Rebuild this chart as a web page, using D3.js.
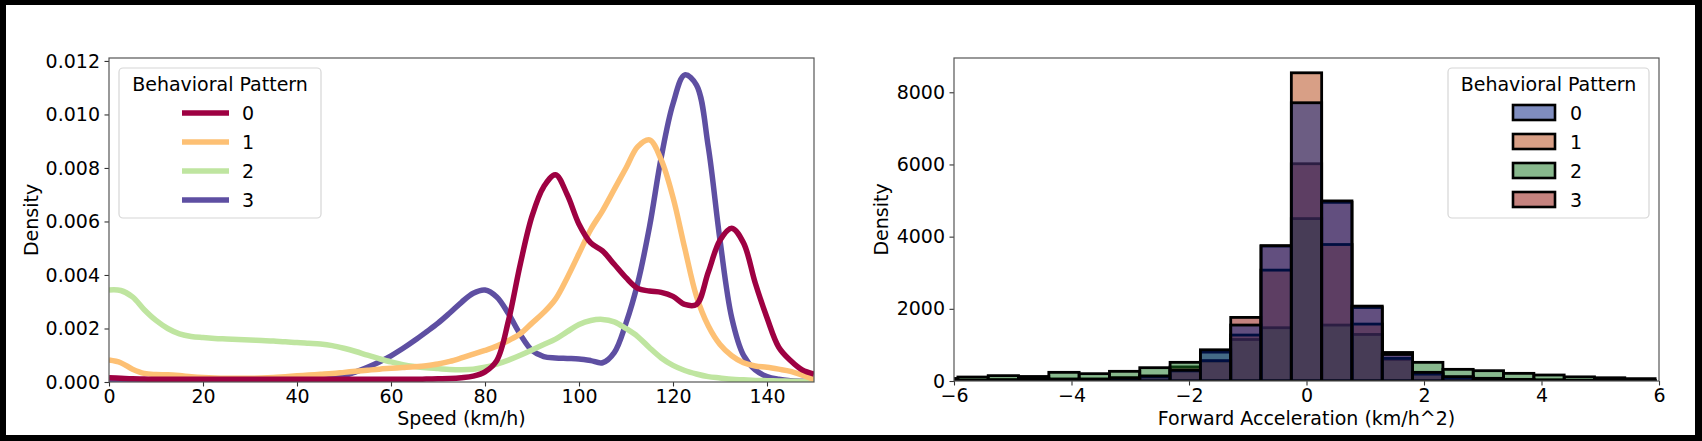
<!DOCTYPE html>
<html>
<head>
<meta charset="utf-8">
<script src="https://d3js.org/d3.v7.min.js"></script>
<style>
    body { margin: 0; background: #fff; }
    svg text { font-family: "DejaVu Sans", sans-serif; fill: #000; }
</style>
</head>
<body>
<svg id="fig" width="1702" height="441"></svg>
<script>
// Hue levels shared by both panels
var patterns = ["0", "1", "2", "3"];

// Left panel: KDE of speed per pattern, every 2.5 km/h
var speedGrid = [0, 2.5, 5, 7.5, 10, 12.5, 15, 17.5, 20, 22.5, 25, 27.5, 30, 32.5, 35, 37.5,
    40, 42.5, 45, 47.5, 50, 52.5, 55, 57.5, 60, 62.5, 65, 67.5, 70, 72.5, 75, 77.5,
    80, 82.5, 85, 87.5, 90, 92.5, 95, 97.5, 100, 102.5, 105, 107.5, 110, 112.5, 115, 117.5,
    120, 122.5, 125, 127.5, 130, 132.5, 135, 137.5, 140, 142.5, 145, 147.5, 150];

var speedDensity0 = [.00016, .00014, .00012, .00011, .0001, .0001, .0001, .0001, .0001, .0001, .0001, .0001, .0001, .0001, .0001, .0001,
    .0001, .0001, .0001, .0001, .0001, .0001, .0001, .0001, .0001, .0001, .0001, .00011, .00012, .00013, .00016, .00022,
    .00038, .0008, .0023, .0044, .0062, .0073, .00775, .0070, .0059, .0052, .0049, .0044, .0039, .0035, .0034, .00335,
    .0032, .0029, .0029, .0041, .0053, .00575, .0052, .0037, .0024, .0013, .0008, .00045, .0003];

var speedDensity1 = [.00082, .00072, .00048, .00032, .00028, .00027, .00024, .0002, .00017, .00015, .00014, .00014, .00014, .00015, .00017, .0002,
    .00023, .00026, .00029, .00032, .00036, .0004, .00044, .00048, .00051, .00054, .00057, .00061, .00067, .00077, .0009, .00104,
    .00118, .00134, .00155, .0018, .0022, .0026, .0031, .0039, .0048, .0057, .0064, .0072, .0080, .0088, .00905, .0083,
    .0069, .0050, .0032, .0021, .0014, .00098, .00072, .0006, .00055, .00048, .0004, .00026, .0001];

var speedDensity2 = [.00344, .00342, .00318, .0027, .0023, .0020, .0018, .0017, .00166, .00163, .00161, .00159, .00157, .00155, .00153, .0015,
    .00148, .00145, .00142, .00136, .00126, .00114, .001, .00087, .00075, .00065, .00058, .00053, .0005, .00047, .00046, .00048,
    .00055, .00067, .00082, .001, .0012, .0014, .0016, .00188, .00215, .0023, .00234, .00225, .002, .0017, .00128, .0009,
    .00062, .00043, .0003, .0002, .00015, .0001, .00008, .00006, .00005, .00004, .00003, .00002, .00002];

var speedDensity3 = [.00002, .00002, .00002, .00002, .00002, .00002, .00002, .00002, .00002, .00002, .00002, .00002, .00002, .00002, .00002, .00002,
    .00003, .00005, .00008, .00014, .00024, .00038, .00055, .00075, .00098, .00125, .00155, .00187, .0022, .00258, .00298, .00332,
    .00344, .00318, .00255, .00178, .00118, .00095, .0009, .00088, .00086, .0008, .00072, .0011, .0022, .0037, .0058, .0084,
    .0104, .01148, .0111, .0088, .0053, .0024, .0010, .00045, .0002, .0001, .00005, .00003, .00002];

// Right panel: layered histogram of forward acceleration, bin centres and counts
var accelBins = [-6.192, -5.676, -5.16, -4.644, -4.128, -3.612, -3.096, -2.58, -2.064, -1.548, -1.032, -0.516,
    0, 0.516, 1.032, 1.548, 2.064, 2.58, 3.096, 3.612, 4.128, 4.644, 5.16, 5.676];
var accelBinWidth = 0.516;

var accelCount0 = [10, 20, 30, 60, 50, 50, 85, 140, 300, 865, 1550, 3750, 7710, 4990, 2075, 735, 240, 120, 74, 40, 25, 15, 12, 8];
var accelCount1 = [5, 15, 25, 50, 40, 40, 70, 115, 280, 565, 1273, 3072, 8540, 3782, 1577, 627, 190, 95, 55, 35, 20, 12, 10, 6];
var accelCount2 = [70, 110, 148, 125, 240, 203, 268, 369, 517, 800, 1150, 1476, 4500, 1550, 1290, 600, 517, 323, 286, 212, 166, 115, 90, 65];
var accelCount3 = [10, 25, 35, 70, 55, 55, 90, 130, 390, 545, 1762, 3740, 6020, 4950, 2035, 790, 215, 110, 65, 45, 30, 20, 15, 10];

// Tick labels
var speedTicks = [0, 20, 40, 60, 80, 100, 120, 140];
var densityTicks = [0, 0.002, 0.004, 0.006, 0.008, 0.010, 0.012];
var accelTicks = [-6, -4, -2, 0, 2, 4, 6];
var countTicks = [0, 2000, 4000, 6000, 8000];

// Spectral for the lines, seaborn "dark" at half alpha for the bars
var lineColors = ["#9e0142", "#fdc074", "#bfe5a0", "#5e4fa2"];
var barColors = ["#001c7f", "#b1400d", "#12711c", "#8c0800"];

var FONT = 19;

var figure = d3.select("#fig");

// Black frame round the whole figure
figure.append("rect").attr("width", 1702).attr("height", 441).attr("fill", "#000");
figure.append("rect")
    .attr("x", 6).attr("y", 5)
    .attr("width", 1689).attr("height", 430)
    .attr("fill", "#fff");

var speedPanel = {left: 109, right: 814, top: 58, bottom: 382};
var accelPanel = {left: 954, right: 1659, top: 58, bottom: 381};

var xSpeed = d3.scaleLinear().domain([0, 150]).range([speedPanel.left, speedPanel.right]);
var ySpeed = d3.scaleLinear().domain([0, 0.01211]).range([speedPanel.bottom, speedPanel.top]);
var xAccel = d3.scaleLinear().domain([-6, 6]).range([accelPanel.left, accelPanel.right]);
var yAccel = d3.scaleLinear().domain([0, 8950]).range([accelPanel.bottom, accelPanel.top]);

var defs = figure.append("defs");

/**
 * Adds a clip rectangle matching a panel and returns its url
 */
function makeClip(id, panel) {
    defs.append("clipPath").attr("id", id)
        .append("rect")
        .attr("x", panel.left).attr("y", panel.top)
        .attr("width", panel.right - panel.left)
        .attr("height", panel.bottom - panel.top);
    return "url(#" + id + ")";
}

/**
 * Draws ticks, tick labels, axis titles and the panel border
 */
function drawAxes(panel, xScale, yScale, xTicks, yTicks, xFormat, yFormat, xTitle, titleX) {
    var bottomAxis = d3.axisBottom(xScale).tickValues(xTicks).tickSize(4.5).tickPadding(3.5).tickFormat(xFormat);
    var leftAxis = d3.axisLeft(yScale).tickValues(yTicks).tickSize(4.5).tickPadding(4.5).tickFormat(yFormat);

    var gx = figure.append("g")
        .attr("transform", "translate(0," + panel.bottom + ")")
        .call(bottomAxis);
    var gy = figure.append("g")
        .attr("transform", "translate(" + panel.left + ",0)")
        .call(leftAxis);

    [gx, gy].forEach(function(g) {
        g.select(".domain").remove();
        g.selectAll(".tick line").attr("stroke", "#333").attr("stroke-width", 1.1);
        g.selectAll(".tick text")
            .attr("font-size", FONT)
            .attr("font-family", "DejaVu Sans")
            .attr("fill", "#000");
    });

    figure.append("rect")
        .attr("x", panel.left).attr("y", panel.top)
        .attr("width", panel.right - panel.left)
        .attr("height", panel.bottom - panel.top)
        .attr("fill", "none")
        .attr("stroke", "#555")
        .attr("stroke-width", 1.2);

    figure.append("text")
        .attr("x", (panel.left + panel.right) / 2)
        .attr("y", 425)
        .attr("text-anchor", "middle")
        .attr("font-size", FONT)
        .text(xTitle);

    figure.append("text")
        .attr("transform", "translate(" + titleX + "," + ((panel.top + panel.bottom) / 2) + ") rotate(-90)")
        .attr("text-anchor", "middle")
        .attr("font-size", FONT)
        .text("Density");
}

/**
 * Legend box with the "Behavioral Pattern" title; returns the group
 */
function drawLegendBox(x, y, w, h) {
    var g = figure.append("g");
    g.append("rect")
        .attr("x", x).attr("y", y)
        .attr("width", w).attr("height", h)
        .attr("rx", 4)
        .attr("fill", "#fff")
        .attr("fill-opacity", 0.8)
        .attr("stroke", "#d6d6d6")
        .attr("stroke-width", 1.2);
    g.append("text")
        .attr("x", x + w / 2)
        .attr("y", y + 22.5)
        .attr("text-anchor", "middle")
        .attr("font-size", FONT)
        .text("Behavioral Pattern");
    return g;
}

// ---------- Left panel: speed KDE ----------
var speedClip = makeClip("clip-speed", speedPanel);
var speedSeries = [speedDensity0, speedDensity1, speedDensity2, speedDensity3];

var kdeLine = d3.line()
    .x(function(d) { return xSpeed(d[0]); })
    .y(function(d) { return ySpeed(d[1]); })
    .curve(d3.curveCatmullRom.alpha(0.5));

var kdeGroup = figure.append("g").attr("clip-path", speedClip);

// seaborn draws the last hue level first, so pattern 0 ends up on top
for (var i = speedSeries.length - 1; i >= 0; i--) {
    var pts = speedGrid.map(function(v, j) { return [v, speedSeries[i][j]]; });
    kdeGroup.append("path")
        .datum(pts)
        .attr("d", kdeLine)
        .attr("fill", "none")
        .attr("stroke", lineColors[i])
        .attr("stroke-width", 5.5)
        .attr("stroke-linejoin", "round");
}

drawAxes(speedPanel, xSpeed, ySpeed, speedTicks, densityTicks,
    d3.format("d"), d3.format(".3f"), "Speed (km/h)", 38);

var speedLegend = drawLegendBox(119, 68, 202, 150);
patterns.forEach(function(p, i) {
    var cy = 113 + i * 29;
    speedLegend.append("line")
        .attr("x1", 182).attr("x2", 229)
        .attr("y1", cy).attr("y2", cy)
        .attr("stroke", lineColors[i])
        .attr("stroke-width", 5.5);
    speedLegend.append("text")
        .attr("x", 242).attr("y", cy + 7)
        .attr("font-size", FONT)
        .text(p);
});

// ---------- Right panel: acceleration histogram ----------
var accelClip = makeClip("clip-accel", accelPanel);
var accelSeries = [accelCount0, accelCount1, accelCount2, accelCount3];

var barGroup = figure.append("g").attr("clip-path", accelClip);

for (var k = accelSeries.length - 1; k >= 0; k--) {
    var rows = accelBins.map(function(c, j) { return {c: c, n: accelSeries[k][j]}; });
    barGroup.append("g")
        .selectAll("rect")
        .data(rows)
        .join("rect")
        .attr("x", function(d) { return xAccel(d.c - accelBinWidth / 2); })
        .attr("width", function(d) { return xAccel(d.c + accelBinWidth / 2) - xAccel(d.c - accelBinWidth / 2); })
        .attr("y", function(d) { return yAccel(d.n); })
        .attr("height", function(d) { return yAccel(0) - yAccel(d.n); })
        .attr("fill", barColors[k])
        .attr("fill-opacity", 0.5)
        .attr("stroke", "#000")
        .attr("stroke-width", 2.8);
}

drawAxes(accelPanel, xAccel, yAccel, accelTicks, countTicks,
    d3.format("d"), d3.format("d"), "Forward Acceleration (km/h^2)", 888);

var accelLegend = drawLegendBox(1448, 68, 201, 150);
patterns.forEach(function(p, i) {
    var cy = 112.5 + i * 29;
    accelLegend.append("rect")
        .attr("x", 1513).attr("y", cy - 7.5)
        .attr("width", 42).attr("height", 15)
        .attr("fill", barColors[i])
        .attr("fill-opacity", 0.5)
        .attr("stroke", "#000")
        .attr("stroke-width", 2.6);
    accelLegend.append("text")
        .attr("x", 1570).attr("y", cy + 7)
        .attr("font-size", FONT)
        .text(p);
});
</script>
</body>
</html>
